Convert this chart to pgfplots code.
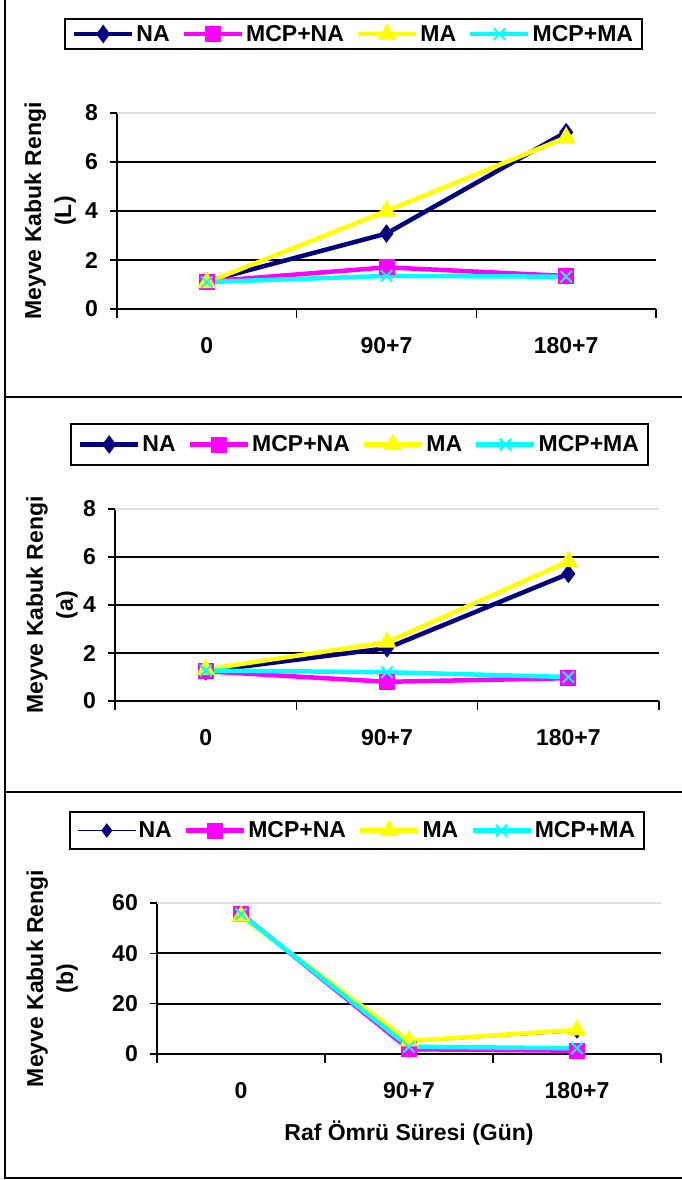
\documentclass[border=0pt]{standalone}
\usepackage{pgfplots}
\pgfplotsset{compat=1.18}
\usepackage{fontspec}
\setmainfont{Liberation Sans}
\definecolor{navyc}{RGB}{0,0,128}
\definecolor{magc}{RGB}{255,0,255}
\definecolor{yelc}{RGB}{255,255,0}
\definecolor{cyac}{RGB}{0,255,255}
\newcommand{\bigf}{\fontsize{23}{30}\selectfont\bfseries}
\pgfplotsset{
  panel/.style={
    scale only axis, anchor=south west,
    xmin=-0.5, xmax=2.5, xtick={0,1,2}, xticklabels={0,90+7,180+7},
    minor xtick={-0.5,0.5,1.5,2.5},
    axis x line=bottom, axis y line=left,
    axis line style={-, line width=2pt},
    tick align=outside, major tick length=7pt, minor tick length=9pt,
    every tick/.style={black, line width=1.5pt},
    major x tick style={draw=none},
    ymajorgrids, major grid style={black, line width=2pt},
    clip=false, enlargelimits=false,
    /pgf/number format/assume math mode=true,
    tick label style={font=\bigf},
    xticklabel style={anchor=center, inner sep=0pt, yshift=-30pt},
    yticklabel style={anchor=east, inner sep=0pt, xshift=-12pt},
    label style={font=\bigf},
    ylabel style={align=center, anchor=center},
    legend columns=4,
    legend image code/.code={\draw[mark repeat=2,mark phase=2] plot coordinates {(0pt,0pt) (29pt,0pt) (58pt,0pt)};},
    legend style={anchor=center, draw=black, line width=2pt, font=\bigf,
      inner xsep=7pt, inner ysep=3pt,
      nodes={inner xsep=2pt, inner ysep=3pt},
      /tikz/every odd column/.append style={column sep=0pt},
      /tikz/every even column/.append style={column sep=10pt}},
  },
  sNA/.style={color=navyc, line width=4.5pt, mark=diamond*, mark size=8.5pt, mark options={solid, line width=1pt, fill=navyc}},
  sMN/.style={color=magc, line width=4.5pt, mark=square*, mark size=7.5pt, mark options={solid, line width=1pt, fill=magc}},
  sMA/.style={color=yelc, line width=4.5pt, mark=triangle*, mark size=10pt, mark options={solid, line width=1pt, fill=yelc}},
  sMM/.style={color=cyac, line width=4.5pt, mark=x, mark size=8pt, mark options={solid, line width=2pt}},
}
\begin{document}
\begin{tikzpicture}
\useasboundingbox (0pt,0pt) rectangle (681pt,-1180pt);
\draw[line width=2.7pt] (5pt,1pt) -- (5pt,-1178pt) -- (682pt,-1178pt);
\draw[line width=2.7pt] (5pt,-397pt) -- (682pt,-397pt);
\draw[line width=2.7pt] (5pt,-792pt) -- (682pt,-792pt);

% Panel 1 (L)
\begin{axis}[panel, at={(117pt,-309pt)}, width=539pt, height=196pt,
  ymin=0, ymax=8, ytick={0,2,4,6,8},
  ylabel={Meyve Kabuk Rengi\\(L)},
  every axis y label/.append style={at={(axis description cs:-0.124,0.5)}},
  legend style={at={(axis description cs:0.4388,1.403)}}]
\addplot[sNA] coordinates {(0,1.13) (1,3.08) (2,7.22)};
\addplot[sMN] coordinates {(0,1.12) (1,1.7) (2,1.35)};
\addplot[sMA] coordinates {(0,1.08) (1,4.0) (2,7.0)};
\addplot[sMM] coordinates {(0,1.1) (1,1.35) (2,1.32)};
\legend{NA,MCP+NA,MA,MCP+MA}
\draw[gray!25, line width=2pt] (rel axis cs:0,1) -- (rel axis cs:1,1);
\end{axis}

% Panel 2 (a)
\begin{axis}[panel, at={(115pt,-701pt)}, width=544pt, height=192pt,
  ymin=0, ymax=8, ytick={0,2,4,6,8},
  ylabel={Meyve Kabuk Rengi\\(a)},
  every axis y label/.append style={at={(axis description cs:-0.116,0.5)}},
  legend style={at={(axis description cs:0.4494,1.336)}, inner ysep=9pt}]
\addplot[sNA] coordinates {(0,1.24) (1,2.2) (2,5.3)};
\addplot[sMN] coordinates {(0,1.24) (1,0.8) (2,0.95)};
\addplot[sMA] coordinates {(0,1.32) (1,2.45) (2,5.82)};
\addplot[sMM] coordinates {(0,1.27) (1,1.2) (2,1.0)};
\legend{NA,MCP+NA,MA,MCP+MA}
\draw[gray!25, line width=2pt] (rel axis cs:0,1) -- (rel axis cs:1,1);
\end{axis}

% Panel 3 (b)
\begin{axis}[panel, at={(157pt,-1054pt)}, width=504pt, height=151pt,
  ymin=0, ymax=60, ytick={0,20,40,60},
  ylabel={Meyve Kabuk Rengi\\(b)},
  every axis y label/.append style={at={(axis description cs:-0.208,0.5)}},
  xlabel={Raf Ömrü Süresi (Gün)},
  every axis x label/.append style={at={(axis description cs:0.5,0)}, anchor=center, yshift=-79pt},
  legend style={at={(axis description cs:0.397,1.48)}, inner ysep=7pt}]
\addplot[sNA, line width=1.5pt, mark size=6.5pt] coordinates {(0,55.8) (1,4.8) (2,9.0)};
\addplot[sMN] coordinates {(0,55.8) (1,1.9) (2,1.3)};
\addplot[sMA] coordinates {(0,54.8) (1,5.2) (2,9.6)};
\addplot[sMM] coordinates {(0,55.6) (1,2.9) (2,2.3)};
\legend{NA,MCP+NA,MA,MCP+MA}
\draw[gray!25, line width=2pt] (rel axis cs:0,1) -- (rel axis cs:1,1);
\end{axis}
\end{tikzpicture}
\end{document}
